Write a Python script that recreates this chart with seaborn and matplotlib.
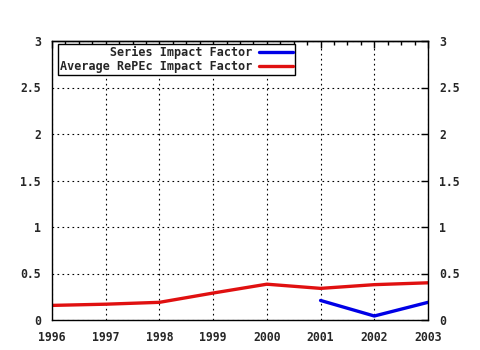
import matplotlib
matplotlib.use("Agg")
import matplotlib.pyplot as plt
import seaborn as sns
import pandas as pd
from matplotlib.ticker import MultipleLocator, FuncFormatter, NullFormatter

years_avg = [1996, 1997, 1998, 1999, 2000, 2001, 2002, 2003]
avg_repec = [0.157, 0.17, 0.19, 0.29, 0.385, 0.34, 0.38, 0.40]
years_series = [2001, 2002, 2003]
series_if = [0.21, 0.043, 0.19]
labels = ["Series Impact Factor", "Average RePEc Impact Factor"]

sns.set_style("white")
plt.rcParams["font.family"] = ["DejaVu Sans Mono", "DejaVu Sans"]
plt.rcParams["font.weight"] = "bold"
plt.rcParams["font.size"] = 8.3

fig = plt.figure(figsize=(4.8, 3.5), dpi=100)
ax = fig.add_axes([52/480, 1-320/350, 376/480, 279/350])

df_s = pd.DataFrame({"year": years_series, "value": series_if})
df_a = pd.DataFrame({"year": years_avg, "value": avg_repec})

width = max(len(l) for l in labels)
lab_s = labels[0].rjust(width)
lab_a = labels[1].rjust(width)

sns.lineplot(data=df_s, x="year", y="value", ax=ax, color="#0000e6", lw=2.4, label=lab_s)
sns.lineplot(data=df_a, x="year", y="value", ax=ax, color="#e01010", lw=2.4, label=lab_a)

ax.set_xlim(1996, 2003)
ax.set_ylim(0, 3)
ax.set_xlabel("")
ax.set_ylabel("")
ax.xaxis.set_major_locator(MultipleLocator(1))
ax.xaxis.set_minor_locator(MultipleLocator(0.25))
ax.yaxis.set_major_locator(MultipleLocator(0.5))
ax.yaxis.set_major_formatter(FuncFormatter(lambda v, p: f"{v:g}"))
ax.xaxis.set_major_formatter(FuncFormatter(lambda v, p: f"{int(round(v))}"))

ax.tick_params(axis="y", which="both", direction="in", right=True, labelright=True,
               color="black", width=1, length=5, pad=8, labelsize=8.3)
ax.tick_params(axis="x", which="both", direction="out", top=False, color="black",
               width=1, pad=4, labelsize=8.3)
ax.tick_params(axis="x", which="major", length=4)
ax.tick_params(axis="x", which="minor", length=3)

top = ax.secondary_xaxis("top")
top.xaxis.set_major_locator(MultipleLocator(1))
top.xaxis.set_minor_locator(MultipleLocator(0.25))
top.xaxis.set_major_formatter(NullFormatter())
top.tick_params(which="both", direction="in", color="black", width=1)
top.tick_params(which="major", length=5)
top.tick_params(which="minor", length=3)
top.spines["top"].set_linewidth(1)

for lab in ax.get_xticklabels() + ax.get_yticklabels():
    lab.set_fontweight("bold")

ax.grid(True, which="major", color="black", linestyle=(0, (1.5, 3)), linewidth=0.8)
for s in ax.spines.values():
    s.set_color("black")
    s.set_linewidth(1)

leg = ax.legend(loc="upper left", bbox_to_anchor=(0.016, 0.99), markerfirst=False,
                frameon=True, fancybox=False, borderpad=0.15, labelspacing=0.1,
                handlelength=2.9, handletextpad=0.6, borderaxespad=0,
                prop={"family": "DejaVu Sans Mono", "weight": "bold", "size": 8.5})
leg.get_frame().set_edgecolor("black")
leg.get_frame().set_linewidth(1)
leg.get_frame().set_alpha(1)

fig.savefig("out.png", dpi=100)
